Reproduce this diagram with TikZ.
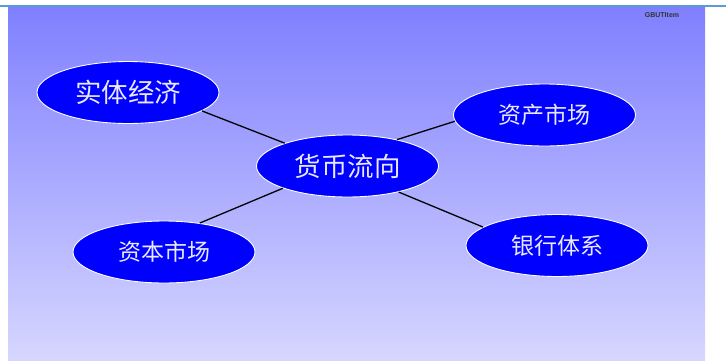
\documentclass[tikz,border=0pt]{standalone}
\usepackage{fontspec}
\setmainfont{Liberation Sans}
\newfontfamily\cjk{Noto Sans CJK SC}
\usetikzlibrary{shapes.geometric}
\definecolor{bgtop}{RGB}{128,128,255}
\definecolor{bgbot}{RGB}{214,214,255}
\definecolor{topline}{RGB}{91,155,213}
\definecolor{nodeblue}{RGB}{0,0,255}
\definecolor{nodetext}{RGB}{232,232,255}
\tikzset{
  bubble/.style={ellipse, draw=white, line width=0.9pt, fill=nodeblue,
    minimum width=182pt, minimum height=62pt, inner sep=0pt,
    text=nodetext, font=\cjk\fontsize{23}{23}\selectfont},
  bigbubble/.style={bubble, font=\cjk\fontsize{26.5}{26.5}\selectfont},
  link/.style={draw=black, line width=1.3pt}
}
\begin{document}
\begin{tikzpicture}[x=1pt,y=-1pt]
\useasboundingbox (0,0) rectangle (726,360);
\shade[top color=bgtop, bottom color=bgbot] (8,7) rectangle (705,360);
\draw[topline, line width=2pt] (0,6) -- (726,6);
\node[font=\bfseries\fontsize{7}{8}\selectfont, text=black!80, anchor=center] (tag) at (662,15) {GBUTItem};
\node[bigbubble] (c) at (347.5,166) {货币流向};
\node[bigbubble] (a) at (128,92.5) {实体经济};
\node[bubble] (b) at (544.5,115) {资产市场};
\node[bubble] (d) at (164,252) {资本市场};
\node[bubble] (e) at (557,245.5) {银行体系};
\path[link] (a.-14.6) -- (c.160.4);
\path[link] (c.28.1) -- (b.184);
\path[link] (d.39) -- (c.199.4);
\path[link] (c.-27) -- (e.166.5);
\end{tikzpicture}
\end{document}
